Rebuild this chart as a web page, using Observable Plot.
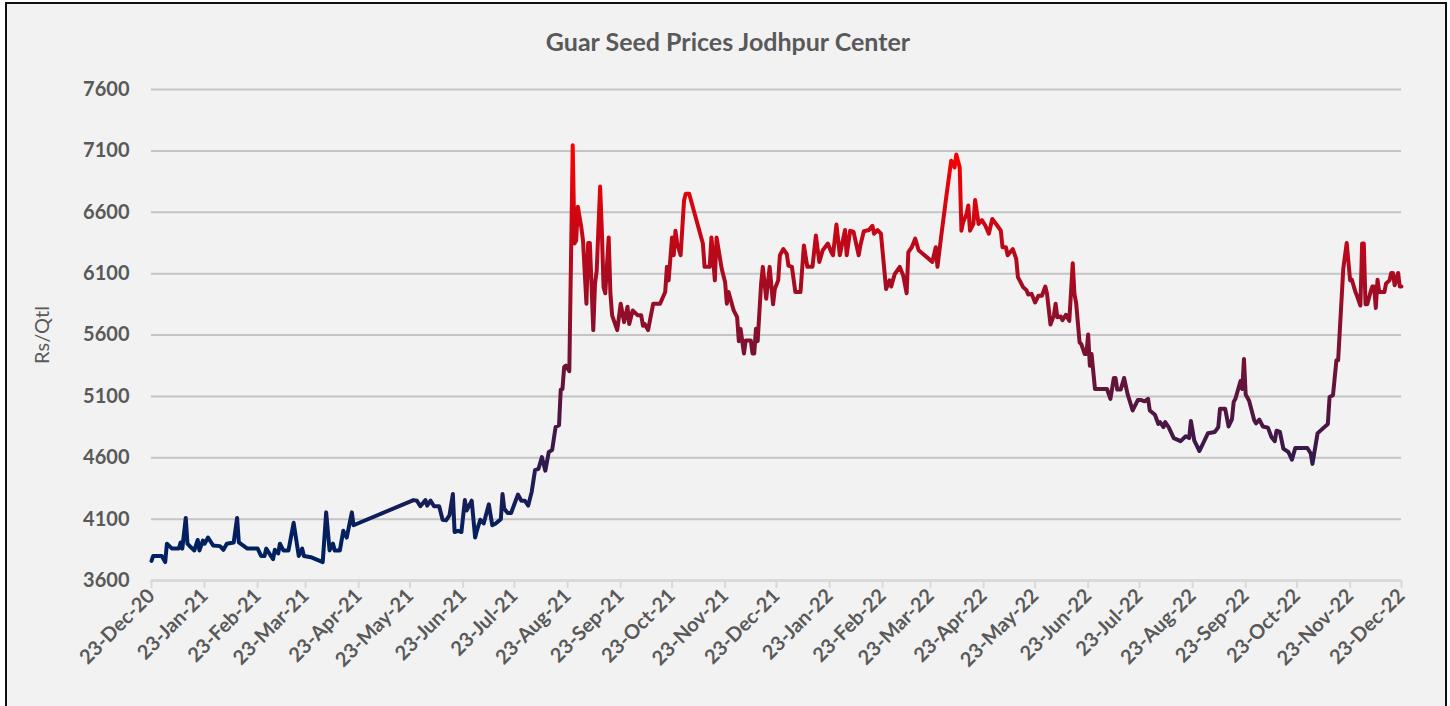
<!DOCTYPE html>
<html><head><meta charset="utf-8">
<script src="https://cdn.jsdelivr.net/npm/d3@7"></script>
<script src="https://cdn.jsdelivr.net/npm/@observablehq/plot@0.6"></script>
<style>
body{margin:0;background:#fff;width:1450px;height:706px;overflow:hidden;}
#frame{position:absolute;left:5px;top:2px;width:1442px;height:712px;border:2px solid #111;background:#f2f2f2;box-sizing:border-box}
#title{position:absolute;left:0;top:26px;width:1456px;text-align:center;font:bold 25px Lato, sans-serif;color:#595959}
#chart{position:absolute;left:0;top:0}
</style></head><body>
<div id="frame"></div>
<div id="title">Guar Seed Prices Jodhpur Center</div>
<div id="chart"></div>
<script>
// Tick labels (x axis) and y ticks
const tickLabels = ["23-Dec-20","23-Jan-21","23-Feb-21","23-Mar-21","23-Apr-21","23-May-21","23-Jun-21","23-Jul-21","23-Aug-21","23-Sep-21","23-Oct-21","23-Nov-21","23-Dec-21","23-Jan-22","23-Feb-22","23-Mar-22","23-Apr-22","23-May-22","23-Jun-22","23-Jul-22","23-Aug-22","23-Sep-22","23-Oct-22","23-Nov-22","23-Dec-22"];
const yTicks = [3600,4100,4600,5100,5600,6100,6600,7100,7600];

// Days since 23-Dec-20 and price (Rs/Qtl)
const days = [0,1,6,8,9,12,16,17,18,20,21,23,25,27,28,30,31,33,36,40,42,44,48,50,51,56,62,64,66,67,70,71,72,74,75,77,80,83,84,86,88,89,93,100,102,104,106,107,110,112,114,117,118,153,155,157,160,161,163,165,168,170,172,174,176,177,179,181,183,184,187,189,190,192,194,197,199,201,204,205,206,208,210,212,214,216,218,220,222,224,226,228,230,232,234,236,238,239,240,241,242,244,246,247,248,249,251,252,254,255,256,258,259,260,262,263,264,265,267,268,269,272,274,276,278,279,281,284,286,287,288,290,293,297,300,301,302,304,305,306,307,309,311,312,314,322,323,326,327,329,330,333,335,336,337,340,342,343,344,346,347,350,351,352,353,354,356,357,359,361,363,364,366,367,369,371,372,374,376,379,381,383,386,388,390,392,395,397,398,400,402,405,406,408,410,413,414,416,419,421,422,424,426,429,431,432,434,437,439,441,442,444,446,448,454,456,458,459,461,464,467,469,470,472,473,474,476,477,478,480,481,483,485,487,489,491,494,496,497,499,500,503,505,506,507,509,511,512,514,516,518,520,522,523,525,527,528,529,531,532,534,536,538,539,540,542,543,545,546,547,548,549,551,558,560,562,563,564,566,568,570,573,576,578,580,582,583,586,588,589,591,592,594,597,601,604,606,607,609,612,617,621,623,624,627,629,631,632,633,636,637,638,639,641,644,645,647,649,652,654,656,657,659,661,664,666,668,675,677,678,681,683,687,688,690,692,693,696,698,700,701,703,704,706,707,708,709,710,712,713,714,715,716,717,720,721,723,724,725,726,728,729,730];
const prices = [3760,3800,3800,3750,3900,3860,3860,3910,3860,4110,3900,3870,3845,3930,3845,3925,3900,3950,3885,3880,3850,3900,3910,4110,3910,3860,3860,3800,3800,3860,3795,3775,3850,3820,3900,3845,3845,4070,3980,3800,3860,3800,3790,3750,4155,3845,3900,3845,3845,4005,3950,4155,4050,4255,4250,4205,4255,4210,4250,4205,4205,4095,4090,4130,4305,3995,4005,3995,4255,4170,4250,3950,4005,4095,4065,4220,4050,4065,4100,4305,4185,4150,4150,4225,4300,4250,4250,4210,4320,4500,4510,4605,4495,4645,4665,4850,4865,5155,5160,5340,5350,5305,7145,6345,6370,6645,6478,6370,5855,6350,6350,5640,6015,6125,6810,6450,5990,5940,6395,5940,5760,5640,5855,5705,5830,5690,5800,5760,5760,5675,5690,5640,5855,5855,5950,6155,6045,6395,6250,6450,6345,6250,6695,6750,6750,6345,6155,6155,6395,6045,6395,6140,6030,5855,5950,5800,5745,5550,5650,5450,5555,5555,5450,5450,5650,5550,6015,6155,5895,6155,5850,5975,6045,6250,6300,6260,6165,6155,5950,5950,6330,6155,6155,6410,6195,6290,6345,6275,6250,6500,6250,6455,6250,6450,6440,6250,6330,6445,6455,6490,6425,6455,6425,5975,6045,5995,6095,6155,6085,5940,6275,6315,6385,6290,6220,6195,6315,6155,6385,6710,7020,6965,7070,6965,6450,6520,6585,6655,6450,6505,6700,6505,6535,6490,6425,6545,6490,6450,6315,6315,6250,6300,6220,6070,6045,5990,5965,5930,5935,5865,5920,5920,5995,5935,5685,5760,5855,5745,5750,5720,5765,5715,6185,5935,5860,5540,5525,5445,5445,5605,5350,5445,5160,5160,5080,5250,5250,5155,5155,5250,5120,4985,5070,5070,5060,5080,4985,4950,4875,4890,4850,4890,4850,4760,4735,4775,4760,4900,4740,4655,4800,4810,4850,5000,5000,4855,4915,5055,5080,5225,5160,5405,5115,5065,4905,4880,4910,4855,4845,4770,4735,4820,4810,4675,4645,4585,4680,4680,4635,4550,4800,4825,4875,5095,5110,5395,5395,6140,6350,6045,6050,5955,5920,5840,6345,6345,5850,5850,5955,5995,5995,5820,6050,5950,5950,6020,6045,6105,6105,6005,6105,5995,5995];

const parse = d3.utcParse("%d-%b-%y");
const fmt = d3.utcFormat("%d-%b-%y");
const tickDates = tickLabels.map(parse);
const start = tickDates[0];
const data = days.map((d, i) => ({date: d3.utcDay.offset(start, d), price: prices[i]}));

const LOW_COLOR = "#002060", HIGH_COLOR = "#ff0000";
const GRAD_LOW = 3950, GRAD_HIGH = 7145;

const chart = Plot.plot({
  width: 1450, height: 706,
  marginLeft: 151, marginRight: 49, marginTop: 89, marginBottom: 126,
  style: {background: "transparent", fontFamily: "Lato, sans-serif", color: "#595959", overflow: "visible"},
  x: {type: "utc", domain: [tickDates[0], tickDates[tickDates.length - 1]]},
  y: {domain: [3600, 7600]},
  marks: [
    Plot.gridY(yTicks, {stroke: "#c4c4c4", strokeOpacity: 1, strokeWidth: 2}),
    Plot.ruleY([3600], {stroke: "#d9d9d9", strokeWidth: 2}),
    Plot.axisY(yTicks, {tickSize: 0, tickPadding: 22, fontSize: 20, fontWeight: "bold", fill: "#595959", label: null, tickFormat: d => String(d)}),
    Plot.axisX(tickDates, {tickFormat: fmt, tickRotate: -45, tickSize: 8, stroke: "#d9d9d9", strokeWidth: 2, fill: "#595959", fontSize: 20, fontWeight: "bold", label: null, tickPadding: 4}),
    Plot.lineY(data, {x: "date", y: "price", stroke: "url(#priceGrad)", strokeWidth: 4, strokeLinejoin: "round"}),
    Plot.text(["Rs/Qtl"], {text: d => d, frameAnchor: "left", textAnchor: "middle", dx: -109, rotate: -90, fontSize: 20, fill: "#595959"})
  ]
});

const ys = chart.scale("y");
const svg = d3.select(chart);
const grad = svg.insert("defs", ":first-child").append("linearGradient")
  .attr("id", "priceGrad").attr("gradientUnits", "userSpaceOnUse")
  .attr("x1", 0).attr("x2", 0)
  .attr("y1", ys.apply(GRAD_LOW)).attr("y2", ys.apply(GRAD_HIGH));
grad.append("stop").attr("offset", 0).attr("stop-color", LOW_COLOR);
grad.append("stop").attr("offset", 1).attr("stop-color", HIGH_COLOR);

document.getElementById("chart").appendChild(chart);
</script>
</body></html>
